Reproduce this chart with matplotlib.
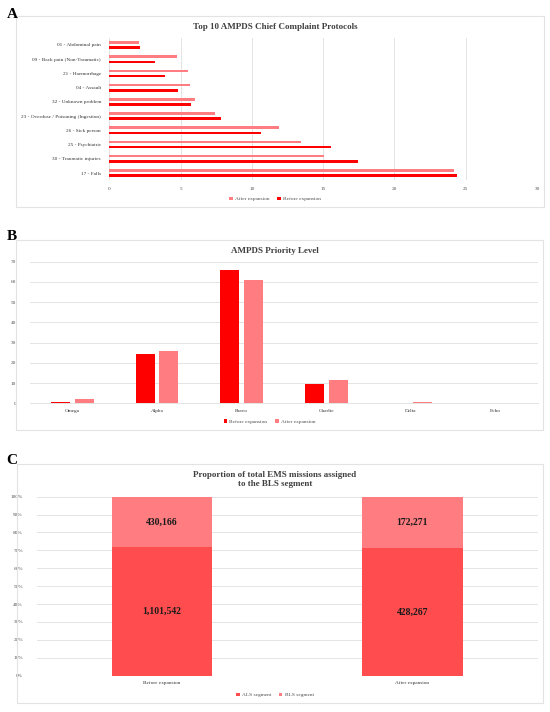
import numpy as np
import matplotlib.pyplot as plt
from matplotlib.patches import Rectangle

plt.rcParams['font.family'] = ['Liberation Serif', 'DejaVu Serif']

# panel A data
protocols = ['01 - Abdominal pain', '09 - Back pain (Non-Traumatic)', '21 - Haemorrhage',
             '04 - Assault', '32 - Unknown problem', '23 - Overdose / Poisoning (Ingestion)',
             '26 - Sick person', '25 - Psychiatric', '30 - Traumatic injuries', '17 - Falls']
prot_after = [2.1, 4.77, 5.54, 5.66, 6.04, 7.42, 11.93, 13.45, 15.03, 24.15]
prot_before = [2.18, 3.22, 3.94, 4.84, 5.73, 7.87, 10.66, 15.54, 17.42, 24.42]

# panel B data
levels = ['Omega', 'Alpha', 'Bravo', 'Charlie', 'Delta', 'Echo']
lvl_before = [0.6, 24.4, 66.0, 9.4, 0.05, 0.02]
lvl_after = [2.0, 25.7, 61.0, 11.4, 0.5, 0.15]

# panel C data
periods = ['Before expansion', 'After expansion']
als = [1101542, 428267]
bls = [430166, 172271]

RED = '#FF0000'
PINK = '#FF7C80'
ALS_C = '#FF4D4F'
GRID = '#D9D9D9'
TXT = '#4d4d4d'

fig = plt.figure(figsize=(5.5, 7.12), dpi=100)

# chart frames + panel letters
for (x, y, w, h) in [(0.0291, 0.7093, 0.96, 0.2683), (0.0291, 0.3961, 0.958, 0.2669),
                     (0.0304, 0.0126, 0.957, 0.3357)]:
    fig.patches.append(Rectangle((x, y), w, h, transform=fig.transFigure,
                                 fill=False, edgecolor='#E3E3E3', linewidth=0.8))
for lab, py in [('A', 14), ('B', 236), ('C', 460)]:
    fig.text(0.012, 1 - py / 712, lab, fontsize=11, fontweight='bold', va='center')


def style(ax):
    for s in ax.spines.values():
        s.set_visible(False)
    ax.tick_params(length=0, colors=TXT, labelsize=3.8)
    ax.set_axisbelow(True)


leg_kw = dict(loc='center', bbox_transform=fig.transFigure, ncol=2, frameon=False,
              fontsize=3.9, handlelength=0.6, handleheight=0.6, handletextpad=0.4,
              columnspacing=1.5, labelcolor=TXT)

# ---- A
ax1 = fig.add_axes([0.1987, 0.747, 0.7777, 0.1998])
y = np.arange(len(protocols))
ax1.barh(y - 0.185, prot_after, height=0.18, color=PINK, label='After expansion')
ax1.barh(y + 0.185, prot_before, height=0.18, color=RED, label='Before expansion')
ax1.set_yticks(y)
ax1.set_yticklabels(protocols, fontsize=4.1)
ax1.set_ylim(len(protocols) - 0.5, -0.5)
ax1.set_xlim(0, 30)
ax1.set_xticks(range(0, 31, 5))
ax1.grid(axis='x', color=GRID, linewidth=0.5)
style(ax1)
ax1.tick_params(axis='x', pad=5)
ax1.tick_params(axis='y', pad=6, labelcolor='#333333')
fig.text(0.5, 1 - 27 / 712, 'Top 10 AMPDS Chief Complaint Protocols', ha='center', va='center',
         fontsize=6.5, fontweight='bold', color='#404040')
ax1.legend(bbox_to_anchor=(0.5, 1 - 199 / 712), **leg_kw)

# ---- B
ax2 = fig.add_axes([0.0545, 0.4336, 0.9236, 0.1988])
x = np.arange(len(levels))
ax2.bar(x - 0.14, lvl_before, width=0.225, color=RED, label='Before expansion')
ax2.bar(x + 0.14, lvl_after, width=0.225, color=PINK, label='After expansion')
ax2.set_xticks(x)
ax2.set_xticklabels(levels, fontsize=4.1)
ax2.set_xlim(-0.5, len(levels) - 0.5)
ax2.set_ylim(0, 70)
ax2.set_yticks(range(0, 71, 10))
ax2.grid(axis='y', color=GRID, linewidth=0.5)
style(ax2)
ax2.spines['bottom'].set_visible(True)
ax2.spines['bottom'].set_color(GRID)
ax2.spines['bottom'].set_linewidth(0.5)
ax2.tick_params(axis='y', pad=10)
ax2.tick_params(axis='x', pad=4, labelcolor='#333333')
fig.text(0.5, 1 - 251 / 712, 'AMPDS Priority Level', ha='center', va='center',
         fontsize=6.5, fontweight='bold', color='#404040')
ax2.legend(bbox_to_anchor=(0.49, 1 - 421.5 / 712), **leg_kw)

# ---- C
ax3 = fig.add_axes([0.0667, 0.051, 0.9109, 0.2514])
tot = np.array(als) + np.array(bls)
als_p = np.array(als) / tot
bls_p = np.array(bls) / tot
xc = np.arange(len(periods))
ax3.bar(xc, als_p, width=0.4, color=ALS_C, label='ALS segment')
ax3.bar(xc, bls_p, width=0.4, bottom=als_p, color=PINK, label='BLS segment')
for i in range(len(periods)):
    ax3.text(xc[i], als_p[i] / 2, f'{als[i]:,}', ha='center', va='center',
             fontsize=7, fontweight='bold', color='#1a1a1a')
    ax3.text(xc[i], als_p[i] + bls_p[i] / 2, f'{bls[i]:,}', ha='center', va='center',
             fontsize=7, fontweight='bold', color='#1a1a1a')
ax3.set_xticks(xc)
ax3.set_xticklabels(periods, fontsize=4.1)
ax3.set_xlim(-0.5, len(periods) - 0.5)
ax3.set_ylim(0, 1)
ax3.set_yticks(np.linspace(0, 1, 11))
ax3.set_yticklabels([f'{int(v)}%' for v in range(0, 101, 10)])
ax3.grid(axis='y', color=GRID, linewidth=0.5)
style(ax3)
ax3.tick_params(axis='y', pad=10)
ax3.tick_params(axis='x', pad=4, labelcolor='#333333')
fig.text(0.5, 1 - 479.5 / 712, 'Proportion of total EMS missions assigned\nto the BLS segment',
         ha='center', va='center', fontsize=6.5, fontweight='bold', color='#404040', linespacing=1.3)
ax3.legend(bbox_to_anchor=(0.5, 1 - 695 / 712), **leg_kw)

fig.savefig('out.png', dpi=100, facecolor='white')
